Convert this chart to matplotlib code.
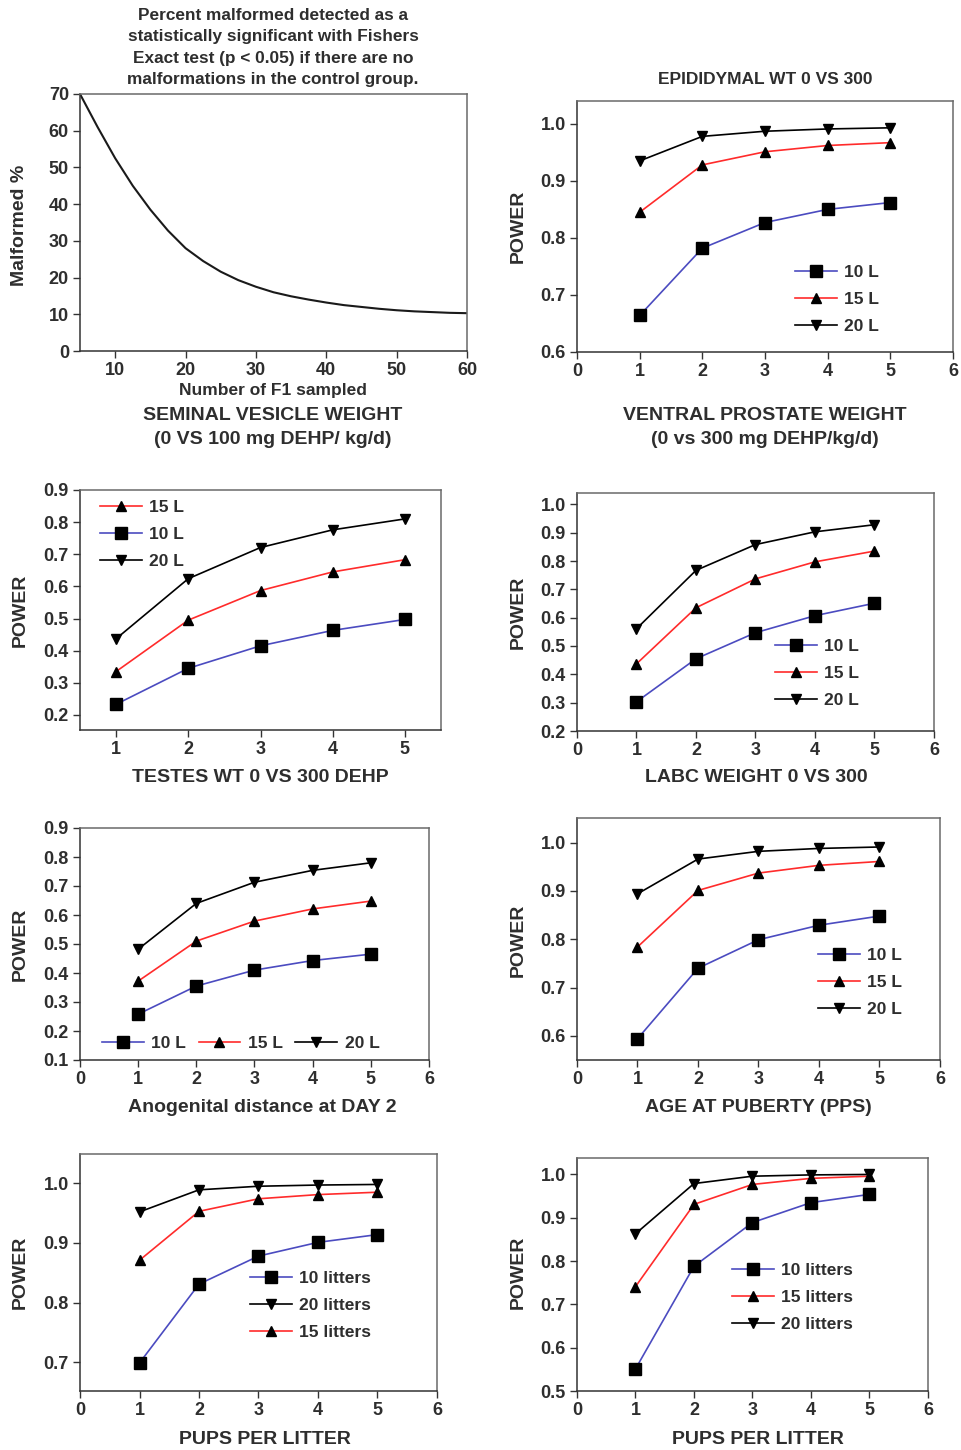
import matplotlib
matplotlib.use('Agg')
import matplotlib.pyplot as plt
from matplotlib.ticker import FormatStrFormatter

plt.rcParams['font.family'] = ['Liberation Sans', 'DejaVu Sans']
plt.rcParams['font.weight'] = 'bold'

# ---- data ----
# panel 1: Fisher exact test curve
f1_sampled = [5, 7.5, 10, 12.5, 15, 17.5, 20, 22.5, 25, 27.5, 30, 32.5, 35,
              37.5, 40, 42.5, 45, 47.5, 50, 52.5, 55, 57.5, 60]
malformed_pct = [70, 61, 52.5, 45, 38.5, 32.8, 28, 24.5, 21.6, 19.3, 17.5, 16,
                 14.9, 14, 13.2, 12.5, 12, 11.5, 11.1, 10.8, 10.6, 10.4, 10.3]

pups = [1, 2, 3, 4, 5]

# epididymal wt
epi_10 = [0.664, 0.782, 0.827, 0.850, 0.862]
epi_15 = [0.845, 0.928, 0.951, 0.962, 0.967]
epi_20 = [0.935, 0.978, 0.987, 0.991, 0.993]

# testes wt
tes_10 = [0.233, 0.345, 0.415, 0.463, 0.497]
tes_15 = [0.335, 0.495, 0.587, 0.645, 0.683]
tes_20 = [0.437, 0.624, 0.721, 0.776, 0.810]

# labc weight
labc_10 = [0.303, 0.455, 0.547, 0.607, 0.651]
labc_15 = [0.437, 0.635, 0.737, 0.797, 0.835]
labc_20 = [0.561, 0.767, 0.858, 0.903, 0.928]

# anogenital distance
agd_10 = [0.258, 0.355, 0.410, 0.443, 0.465]
agd_15 = [0.372, 0.510, 0.579, 0.621, 0.648]
agd_20 = [0.482, 0.640, 0.713, 0.754, 0.780]

# age at puberty
pps_10 = [0.594, 0.740, 0.799, 0.829, 0.848]
pps_15 = [0.784, 0.901, 0.937, 0.953, 0.961]
pps_20 = [0.894, 0.966, 0.982, 0.988, 0.991]

# pups per litter (left)
ppl_a_10 = [0.699, 0.831, 0.878, 0.901, 0.914]
ppl_a_15 = [0.871, 0.953, 0.974, 0.981, 0.985]
ppl_a_20 = [0.952, 0.989, 0.995, 0.997, 0.998]

# pups per litter (right)
ppl_b_10 = [0.551, 0.788, 0.889, 0.935, 0.954]
ppl_b_15 = [0.741, 0.931, 0.977, 0.991, 0.996]
ppl_b_20 = [0.863, 0.979, 0.996, 0.999, 1.000]

W, H = 962, 1450
TXT = '#2e2e2e'
BLUE = '#4b4bc0'
RED = '#ff2b2b'

STYLE = {
    10: dict(color=BLUE, marker='s', ms=8.5),
    15: dict(color=RED, marker='^', ms=7),
    20: dict(color='black', marker='v', ms=7),
}

fig = plt.figure(figsize=(W / 100, H / 100), dpi=100)


def box(l, t, r, b):
    return fig.add_axes([l / W, 1 - b / H, (r - l) / W, (b - t) / H])


def ftext(x, y, s, size=14, **kw):
    fig.text(x / W, 1 - y / H, s, ha='center', va='center', color=TXT,
             fontsize=size, fontweight='bold', **kw)


def style_axes(ax):
    for side in ['left', 'bottom']:
        ax.spines[side].set_color('#333333')
        ax.spines[side].set_linewidth(1.1)
    for side in ['top', 'right']:
        ax.spines[side].set_color('#6a6a6a')
        ax.spines[side].set_linewidth(1.1)
    ax.tick_params(direction='out', length=5, width=1, colors='#333333',
                   labelsize=13, pad=3)
    for lab in ax.get_xticklabels() + ax.get_yticklabels():
        lab.set_color(TXT)
        lab.set_fontweight('bold')


def power_panel(rect, series, ylim, yticks, xlim=(0, 6), xticks=range(0, 7)):
    ax = box(*rect)
    lines = {}
    for n, vals in series:
        st = STYLE[n]
        ln, = ax.plot(pups, vals, color=st['color'], lw=1.2, marker=st['marker'],
                      ms=st['ms'], mfc='black', mec='black')
        lines[n] = ln
    ax.set_xlim(*xlim)
    ax.set_ylim(*ylim)
    ax.set_xticks(list(xticks))
    ax.set_yticks(yticks)
    ax.yaxis.set_major_formatter(FormatStrFormatter('%.1f'))
    style_axes(ax)
    return ax, lines


def add_legend(ax, lines, order, labels, x, y, ncol=1, colsp=0.8):
    handles = [lines[n] for n in order]
    leg = ax.legend(handles, labels, loc='upper left', ncol=ncol,
                    bbox_to_anchor=(x / W, 1 - y / H), bbox_transform=fig.transFigure,
                    frameon=False, borderpad=0, borderaxespad=0, fontsize=12.5,
                    handlelength=2.4, handletextpad=0.45, labelspacing=0.68,
                    columnspacing=colsp)
    for t in leg.get_texts():
        t.set_color(TXT)
        t.set_fontweight('bold')


# ---- panel 1: malformed % ----
ax1 = box(80, 94, 467, 351)
ax1.plot(f1_sampled, malformed_pct, color='#1a1a1a', lw=1.5)
ax1.set_xlim(5, 60)
ax1.set_ylim(0, 70)
ax1.set_xticks([10, 20, 30, 40, 50, 60])
ax1.set_yticks(range(0, 71, 10))
style_axes(ax1)
ftext(273, 47.5, 'Percent malformed detected as a\nstatistically significant with Fishers\n'
      'Exact test (p < 0.05) if there are no\nmalformations in the control group.',
      size=12.4, linespacing=1.52)
ftext(273, 390, 'Number of F1 sampled', size=12.5)
ftext(20, 225, 'Malformed %', rotation=90)

# ---- panel 2: epididymal ----
ax2, l2 = power_panel((577, 101, 953, 352), [(10, epi_10), (15, epi_15), (20, epi_20)],
                      (0.6, 1.04), [0.6, 0.7, 0.8, 0.9, 1.0])
add_legend(ax2, l2, [10, 15, 20], ['10 L', '15 L', '20 L'], 795, 265)
ftext(765, 79, 'EPIDIDYMAL WT 0 VS 300', size=12.5)
ftext(518, 226, 'POWER', rotation=90)

ftext(273, 416, 'SEMINAL VESICLE WEIGHT')
ftext(273, 440, '(0 VS 100 mg DEHP/ kg/d)')
ftext(765, 416, 'VENTRAL PROSTATE WEIGHT')
ftext(765, 440, '(0 vs 300 mg DEHP/kg/d)')

# ---- panel 3: testes ----
ax3, l3 = power_panel((80, 490, 441, 730), [(10, tes_10), (15, tes_15), (20, tes_20)],
                      (0.153, 0.9), [0.2, 0.3, 0.4, 0.5, 0.6, 0.7, 0.8, 0.9],
                      xlim=(0.5, 5.5), xticks=range(1, 6))
add_legend(ax3, l3, [15, 10, 20], ['15 L', '10 L', '20 L'], 100, 500)
ftext(260, 778, 'TESTES WT 0 VS 300 DEHP')
ftext(20, 610, 'POWER', rotation=90)

# ---- panel 4: labc ----
ax4, l4 = power_panel((577, 493, 934, 731), [(10, labc_10), (15, labc_15), (20, labc_20)],
                      (0.2, 1.04), [0.2, 0.3, 0.4, 0.5, 0.6, 0.7, 0.8, 0.9, 1.0])
add_legend(ax4, l4, [10, 15, 20], ['10 L', '15 L', '20 L'], 775, 639)
ftext(756, 778, 'LABC WEIGHT 0 VS 300')
ftext(518, 612, 'POWER', rotation=90)

# ---- panel 5: anogenital distance ----
ax5, l5 = power_panel((80, 828, 429, 1060), [(10, agd_10), (15, agd_15), (20, agd_20)],
                      (0.1, 0.9), [0.1, 0.2, 0.3, 0.4, 0.5, 0.6, 0.7, 0.8, 0.9])
add_legend(ax5, l5, [10, 15, 20], ['10 L', '15 L', '20 L'], 102, 1036, ncol=3, colsp=0.7)
ftext(262, 1107, 'Anogenital distance at DAY 2')
ftext(20, 944, 'POWER', rotation=90)

# ---- panel 6: age at puberty ----
ax6, l6 = power_panel((577, 818, 940, 1060), [(10, pps_10), (15, pps_15), (20, pps_20)],
                      (0.55, 1.051), [0.6, 0.7, 0.8, 0.9, 1.0])
add_legend(ax6, l6, [10, 15, 20], ['10 L', '15 L', '20 L'], 818, 948)
ftext(758, 1107, 'AGE AT PUBERTY (PPS)')
ftext(518, 940, 'POWER', rotation=90)

# ---- panel 7: pups per litter (left) ----
ax7, l7 = power_panel((80, 1154, 437, 1391), [(10, ppl_a_10), (15, ppl_a_15), (20, ppl_a_20)],
                      (0.652, 1.049), [0.7, 0.8, 0.9, 1.0])
add_legend(ax7, l7, [10, 20, 15], ['10 litters', '20 litters', '15 litters'], 250, 1271)
ftext(265, 1440, 'PUPS PER LITTER')
ftext(20, 1272, 'POWER', rotation=90)

# ---- panel 8: pups per litter (right) ----
ax8, l8 = power_panel((577, 1158, 928, 1391), [(10, ppl_b_10), (15, ppl_b_15), (20, ppl_b_20)],
                      (0.5, 1.038), [0.5, 0.6, 0.7, 0.8, 0.9, 1.0])
add_legend(ax8, l8, [10, 15, 20], ['10 litters', '15 litters', '20 litters'], 732, 1263)
ftext(758, 1440, 'PUPS PER LITTER')
ftext(518, 1272, 'POWER', rotation=90)

fig.savefig('out.png', dpi=100)
